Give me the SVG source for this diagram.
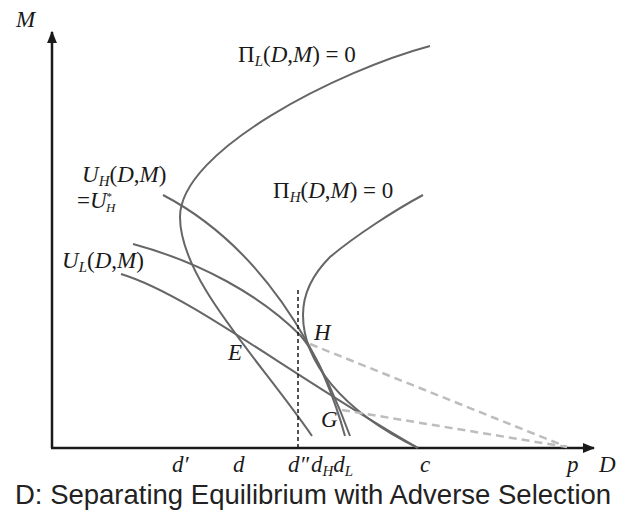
<svg xmlns="http://www.w3.org/2000/svg" width="624" height="517" viewBox="0 0 624 517">
<style>
.ax{stroke:#1a1a1a;stroke-width:2.5;fill:none}
.cv{stroke:#666;stroke-width:2;fill:none}
.dg{stroke:#bdbdbd;stroke-width:2.5;fill:none;stroke-dasharray:8 5}
.dv{stroke:#1a1a1a;stroke-width:1.5;fill:none;stroke-dasharray:4 3}
.m{font-family:"Liberation Serif","Times New Roman",serif;font-size:23px;fill:#1a1a1a}
.i{font-style:italic}
.s{font-size:15px}
.cap{font-family:"Liberation Sans",Arial,sans-serif;font-size:27.5px;fill:#222}
</style>
<defs>
<marker id="arr" viewBox="0 0 10 10" refX="9" refY="5" markerWidth="5" markerHeight="5" orient="auto" markerUnits="strokeWidth">
<path d="M0,1 L10,5 L0,9 Z" fill="#1a1a1a"/>
</marker>
</defs>
<rect width="624" height="517" fill="#fff"/>
<g id="axes">
<path class="ax" d="M52,448 L52,32" marker-end="url(#arr)"/>
<path class="ax" d="M51,448 L594,448" marker-end="url(#arr)"/>
</g>
<g id="connectors">
<path id="piL" class="cv" d="M430,46 C340,70 180,150 180,217 C180,280 260,360 312,436"/>
<path id="piH" class="cv" d="M423,195 C395,210 355,236 330,257 C315,272 303,292 303,315 C303,360 340,410 418,448"/>
<path id="uL" class="cv" d="M121,274 C190,295 290,375 418,448"/>
<path id="uL2" class="cv" d="M133,244 C200,262 260,295 300,335 C318,355 335,400 345,436"/>
<path id="uH" class="cv" d="M163,195 C230,230 300,300 350,436"/>
<path class="dv" d="M298,290 L298,448"/>
<path class="dg" d="M310,344 L567,447"/>
<path class="dg" d="M342,410 L567,447"/>
</g>
<g id="labels">
<text class="m i" x="16" y="27" font-size="20">M</text>
<text class="m" x="238" y="62">Π<tspan class="i s" dy="4">L</tspan><tspan dy="-4">(</tspan><tspan class="i">D</tspan>,<tspan class="i">M</tspan>) = 0</text>
<text class="m" x="273" y="198">Π<tspan class="i s" dy="4">H</tspan><tspan dy="-4">(</tspan><tspan class="i">D</tspan>,<tspan class="i">M</tspan>) = 0</text>
<text class="m" x="82" y="182"><tspan class="i">U</tspan><tspan class="i s" dy="4">H</tspan><tspan dy="-4">(</tspan><tspan class="i">D</tspan>,<tspan class="i">M</tspan>)</text>
<text class="m" x="77" y="208">=<tspan class="i">U</tspan><tspan font-size="11" dy="-8">*</tspan><tspan class="i" font-size="13" dx="-6" dy="12">H</tspan></text>
<text class="m" x="62" y="268"><tspan class="i">U</tspan><tspan class="i s" dy="4">L</tspan><tspan dy="-4">(</tspan><tspan class="i">D</tspan>,<tspan class="i">M</tspan>)</text>
<text class="m i" x="228" y="360" font-size="21">E</text>
<text class="m i" x="314" y="340" font-size="21">H</text>
<text class="m i" x="321" y="427" font-size="21">G</text>
<text class="m i" x="172" y="472" font-size="21">d′</text>
<text class="m i" x="233" y="472" font-size="21">d</text>
<text class="m i" x="288" y="472" font-size="21">d″</text>
<text class="m i" x="311" y="472" font-size="21">d<tspan class="s" dy="4">H</tspan><tspan dy="-4">d</tspan><tspan class="s" dy="4">L</tspan></text>
<text class="m i" x="420" y="472" font-size="21">c</text>
<text class="m i" x="567" y="472" font-size="21">p</text>
<text class="m i" x="599" y="472" font-size="21">D</text>
<text class="cap" x="15" y="504">D: Separating Equilibrium with Adverse Selection</text>
</g>
</svg>
